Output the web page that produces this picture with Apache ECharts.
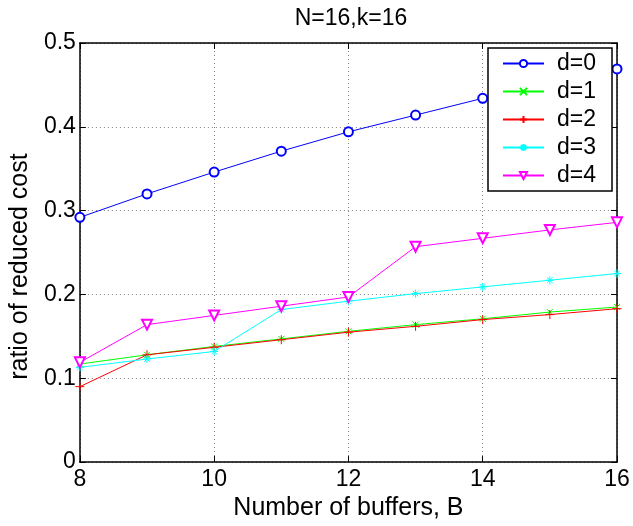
<!DOCTYPE html>
<html>
<head>
<meta charset="utf-8">
<script src="https://cdn.jsdelivr.net/npm/echarts@6/dist/echarts.min.js"></script>
<style>
  html, body { margin: 0; padding: 0; background: #fff; }
  #chart { width: 633px; height: 526px; }
</style>
</head>
<body>
<div id="chart"></div>
<script>
// 数据：缓冲区数 B 与各 d 的 ratio of reduced cost
var buffers = [8, 9, 10, 11, 12, 13, 14, 15, 16];
var d0 = [0.292, 0.320, 0.346, 0.371, 0.394, 0.414, 0.434, 0.451, 0.469];
var d1 = [0.117, 0.128, 0.138, 0.147, 0.156, 0.164, 0.171, 0.179, 0.185];
var d2 = [0.090, 0.128, 0.137, 0.146, 0.155, 0.162, 0.170, 0.176, 0.183];
var d3 = [0.113, 0.123, 0.132, 0.182, 0.192, 0.201, 0.209, 0.217, 0.225];
var d4 = [0.119, 0.164, 0.175, 0.186, 0.197, 0.257, 0.267, 0.277, 0.286];
var seriesNames = ['d=0', 'd=1', 'd=2', 'd=3', 'd=4'];
var yTicks = ['0', '0.1', '0.2', '0.3', '0.4', '0.5'];

var FONT = 'Liberation Sans';

function pairs(ys) {
    var out = [];
    for (var i = 0; i < buffers.length; i++) {
        out.push([buffers[i], ys[i]]);
    }
    return out;
}

function makeSeries(name, ys, color, symbol, size, rotate) {
    return {
        name: name,
        type: 'line',
        data: pairs(ys),
        symbol: symbol,
        symbolSize: size,
        symbolRotate: rotate || 0,
        showAllSymbol: true,
        color: color,
        lineStyle: { color: color, width: 1 },
        itemStyle: { color: color, borderColor: color, borderWidth: 1 },
        emphasis: { disabled: true },
        animation: false
    };
}

var myChart = echarts.init(document.getElementById('chart'));

var gridLine = { show: true, lineStyle: { color: '#808080', type: [1, 3], width: 1 } };
var boxLine = { show: true, onZero: false, lineStyle: { color: '#000', width: 1.5 } };
var tick = { show: true, inside: true, length: 6, lineStyle: { color: '#000', width: 1 } };

option = {
    backgroundColor: '#fff',
    textStyle: { fontFamily: FONT },
    title: {
        text: 'N=16,k=16',
        left: 346,
        textAlign: 'center',
        top: 2,
        textStyle: { fontFamily: FONT, fontSize: 23, fontWeight: 'normal', color: '#000' }
    },
    legend: {
        orient: 'vertical',
        left: 488,
        top: 48,
        padding: [4, 16, 4, 14],
        itemWidth: 41,
        itemHeight: 9,
        itemGap: 5,
        backgroundColor: '#fff',
        borderColor: '#000',
        borderWidth: 1.5,
        data: seriesNames,
        textStyle: { fontFamily: FONT, fontSize: 23, color: '#000', lineHeight: 23, padding: [0, 0, 0, 8] }
    },
    grid: {
        left: 75,
        right: 16,
        top: 43,
        bottom: 57
    },
    xAxis: [
        {
            type: 'value',
            min: 8,
            max: 16,
            interval: 2,
            position: 'bottom',
            name: 'Number of buffers, B',
            nameLocation: 'middle',
            nameGap: 24,
            nameTextStyle: { fontFamily: FONT, fontSize: 25, color: '#000' },
            axisLine: boxLine,
            axisTick: tick,
            splitLine: gridLine,
            axisLabel: { fontFamily: FONT, fontSize: 23, color: '#000', margin: 6 }
        },
        {
            type: 'value',
            min: 8,
            max: 16,
            interval: 2,
            position: 'top',
            axisLine: boxLine,
            axisTick: tick,
            splitLine: { show: false },
            axisLabel: { show: false }
        }
    ],
    yAxis: [
        {
            type: 'value',
            min: 0,
            max: 0.5,
            interval: 0.1,
            position: 'left',
            name: 'ratio of reduced cost',
            nameLocation: 'middle',
            nameGap: 45,
            nameTextStyle: { fontFamily: FONT, fontSize: 25, color: '#000', padding: [0, 28, 0, 0] },
            axisLine: boxLine,
            axisTick: tick,
            splitLine: gridLine,
            axisLabel: {
                fontFamily: FONT,
                fontSize: 23,
                color: '#000',
                margin: 4,
                formatter: function (v) {
                    return yTicks[Math.round(v * 10)];
                }
            }
        },
        {
            type: 'value',
            min: 0,
            max: 0.5,
            interval: 0.1,
            position: 'right',
            axisLine: boxLine,
            axisTick: tick,
            splitLine: { show: false },
            axisLabel: { show: false }
        }
    ],
    series: [
        makeSeries('d=0', d0, '#0000ff', 'emptyCircle', 9),
        makeSeries('d=1', d1, '#00ff00', 'path://M0,0L10,10M10,0L0,10', 6),
        makeSeries('d=2', d2, '#ff0000', 'path://M5,0L5,10M0,5L10,5', 9),
        makeSeries('d=3', d3, '#00ffff', 'path://M5,0L5,10M0,5L10,5M1.5,1.5L8.5,8.5M8.5,1.5L1.5,8.5', 8),
        makeSeries('d=4', d4, '#ff00ff', 'emptyTriangle', 10, 180)
    ]
};
myChart.setOption(option);
</script>
</body>
</html>
